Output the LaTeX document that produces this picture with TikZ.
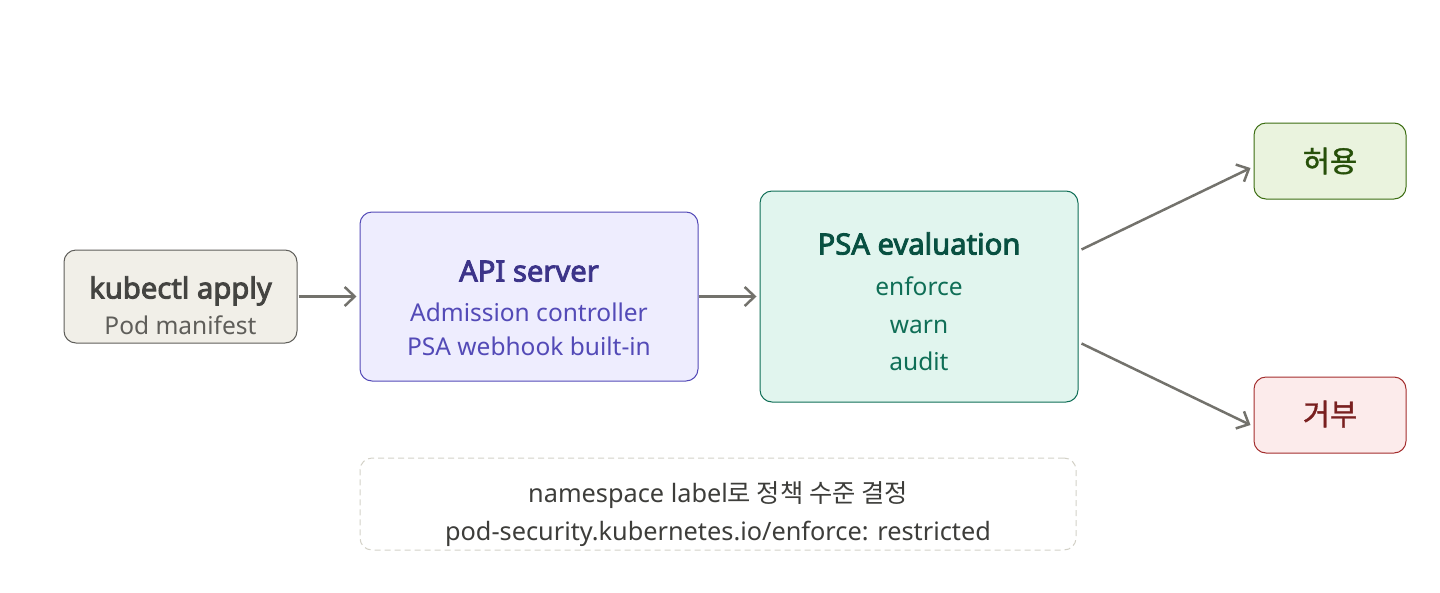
\documentclass[tikz,border=0pt]{standalone}
\usepackage{fontspec}
\setmainfont{Noto Sans}[AutoFakeBold=3]
\newfontfamily\krfont{Noto Sans CJK KR}
\newfontfamily\krbfont{Noto Sans CJK KR}[FakeBold=1.2]
\usetikzlibrary{arrows.meta}
\definecolor{grayfill}{HTML}{F1EFE8}
\definecolor{grayline}{HTML}{5F5E5A}
\definecolor{graytext}{HTML}{444441}
\definecolor{purfill}{HTML}{EEEDFE}
\definecolor{purline}{HTML}{534AB7}
\definecolor{purtext}{HTML}{3C3489}
\definecolor{grnfill}{HTML}{E1F5EE}
\definecolor{grnline}{HTML}{0F6E56}
\definecolor{grntext}{HTML}{085041}
\definecolor{okfill}{HTML}{EAF3DE}
\definecolor{okline}{HTML}{3B6D11}
\definecolor{oktext}{HTML}{27500A}
\definecolor{nofill}{HTML}{FCEBEB}
\definecolor{noline}{HTML}{A32D2D}
\definecolor{notext}{HTML}{791F1F}
\definecolor{arrowc}{HTML}{73726C}
\definecolor{dashc}{HTML}{D3D1C7}
\definecolor{notec}{HTML}{3D3D3A}
\tikzset{
  box/.style={rounded corners=12pt, line width=1pt},
  ttl/.style={font=\fontsize{29.2}{32}\selectfont\bfseries, inner sep=0pt, anchor=base},
  sub/.style={font=\fontsize{24.5}{28}\selectfont, inner sep=0pt, anchor=base},
  kr/.style={font=\krbfont\fontsize{29.5}{32}\selectfont, inner sep=0pt},
  arr/.style={draw=arrowc, line width=2.5pt, -{Straight Barb[length=10pt,width=19pt,line width=2.5pt]}},
}
\begin{document}
\begin{tikzpicture}[x=1pt,y=-1pt]
\useasboundingbox (0,0) rectangle (1440,592);
% boxes
\node[box, fill=grayfill, draw=grayline, minimum width=233pt, minimum height=93pt] (kub) at (180.5,296.5) {};
\node[ttl, text=graytext] (k1) at (180.5,298.5) {kubectl apply};
\node[sub, text=grayline] (k2) at (180.5,334) {Pod manifest};

\node[box, fill=purfill, draw=purline, minimum width=338pt, minimum height=169pt] (api) at (529,296.5) {};
\node[ttl, text=purtext] (a1) at (529,281.5) {API server};
\node[sub, text=purline] (a2) at (529,321) {Admission controller};
\node[sub, text=purline] (a3) at (529,355) {PSA webhook built-in};

\node[box, fill=grnfill, draw=grnline, minimum width=318pt, minimum height=211pt] (psa) at (919,296.5) {};
\node[ttl, text=grntext] (p1) at (919,254.5) {PSA evaluation};
\node[sub, text=grnline] (p2) at (919,295) {enforce};
\node[sub, text=grnline] (p3) at (919,333) {warn};
\node[sub, text=grnline] (p4) at (919,370) {audit};

\node[box, fill=okfill, draw=okline, minimum width=152pt, minimum height=76pt] (ok) at (1330,161) {};
\node[kr, text=oktext] (okt) at (1330,161) {허용};
\node[box, fill=nofill, draw=noline, minimum width=152pt, minimum height=76pt] (no) at (1330,415) {};
\node[kr, text=notext] (not) at (1330,414) {거부};

\node[box, draw=dashc, dash pattern=on 6pt off 4pt, minimum width=716pt, minimum height=92pt] (note) at (718,504) {};
\node[inner sep=0pt, anchor=base, text=notec, font=\fontsize{25.3}{28}\selectfont] (n1) at (718,502) {namespace label{\krfont 로 정책 수준 결정}};
\node[inner sep=0pt, anchor=base, text=notec, font=\fontsize{25.3}{28}\selectfont] (n2) at (718,540) {pod-security.kubernetes.io/enforce: restricted};

% arrows
\draw[arr] ([xshift=1pt]kub.east) -- ([xshift=-3pt]api.west);
\draw[arr] (api.east) -- ([xshift=-3pt]psa.west);
\draw[arr] ([yshift=47pt,xshift=3pt]psa.east) -- ([xshift=-3pt,yshift=-7pt]ok.west);
\draw[arr] ([yshift=-47pt,xshift=3pt]psa.east) -- ([xshift=-3pt,yshift=-10pt]no.west);
\end{tikzpicture}
\end{document}
